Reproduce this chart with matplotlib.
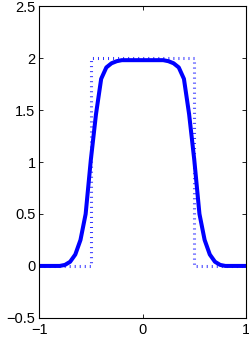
import numpy as np
import matplotlib
matplotlib.use('Agg')
import matplotlib.pyplot as plt

plt.rcParams['font.family'] = ['Liberation Sans', 'DejaVu Sans']

# rectangle (dotted) corners
rect_x = [-1, -0.5, -0.5, 0.5, 0.5, 1]
rect_y = [0, 0, 2, 2, 0, 0]

# smoothed curve (step 0.05)
half_x = [0.0, 0.05, 0.10, 0.15, 0.20, 0.25, 0.30, 0.35, 0.40, 0.45,
          0.50, 0.55, 0.60, 0.65, 0.70, 0.75, 0.80, 0.85, 0.90, 0.95, 1.0]
half_y = [1.98, 1.98, 1.98, 1.98, 1.98, 1.97, 1.95, 1.91, 1.80, 1.46,
          1.02, 0.50, 0.25, 0.11, 0.04, 0.01, 0.0, 0.0, 0.0, 0.0, 0.0]
smooth_x = [-v for v in half_x[::-1]] + half_x[1:]
smooth_y = half_y[::-1] + half_y[1:]

fig = plt.figure(figsize=(2.49, 3.40), dpi=100)
ax = fig.add_axes([0.157, 0.065, 0.831, 0.917])

lw_dot = 2.2
ax.plot(rect_x, rect_y, color='blue', lw=lw_dot, alpha=0.8,
        ls=(0, (0.72 / lw_dot, 2.9 / lw_dot)), dash_capstyle='butt')
ax.plot(smooth_x, smooth_y, color='#0000ff', lw=2.9, solid_joinstyle='round')

ax.set_xlim(-1, 1)
ax.set_ylim(-0.5, 2.5)
ax.set_xticks([-1, 0, 1])
ax.set_yticks([-0.5, 0, 0.5, 1, 1.5, 2, 2.5])
ax.set_yticklabels(['\u22120.5', '0', '0.5', '1', '1.5', '2', '2.5'])
ax.set_xticklabels(['\u22121', '0', '1'])
ax.tick_params(direction='in', length=3, width=0.6, labelsize=10.5,
               top=True, right=True, pad=2)
ax.tick_params(axis='x', pad=3.5)
ax.tick_params(axis='y', pad=2.5)
for s in ax.spines.values():
    s.set_linewidth(0.8)

fig.savefig('out.png', dpi=100)
